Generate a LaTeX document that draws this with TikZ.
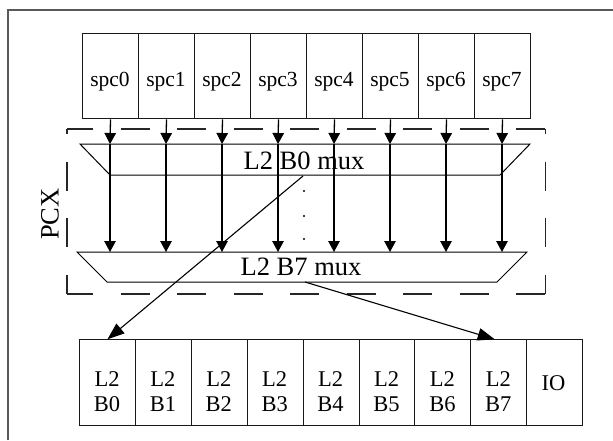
\documentclass[tikz,border=0pt]{standalone}
\usepackage{fontspec}
\setmainfont{Liberation Serif}
\usetikzlibrary{arrows.meta,calc}
\begin{document}
\begin{tikzpicture}[x=1pt,y=-1pt,
  frame/.style={draw=black!65, line width=1.5pt},
  cell/.style={draw=black!90, line width=1pt, inner sep=0pt, anchor=north west},
  spccell/.style={cell, minimum width=56pt, minimum height=85.6pt},
  bankcell/.style={cell, minimum width=55.9pt, minimum height=85.7pt},
  spctext/.style={anchor=base, inner sep=0pt, font=\fontsize{21.5}{24}\selectfont},
  banktext/.style={anchor=base, inner sep=0pt, font=\fontsize{22.5}{25}\selectfont},
  muxtext/.style={anchor=base, inner sep=0pt, font=\fontsize{26.5}{28}\selectfont},
  muxline/.style={draw=black, line width=1pt, line join=miter},
  pcxbox/.style={draw=black!85, line width=1.2pt, dash pattern=on 29pt off 27.5pt},
  varrow/.style={draw=black, line width=1.3pt, -{Triangle[length=11pt,width=11.5pt]}},
  darrow/.style={draw=black, line width=1.1pt, -{Triangle[length=17pt,width=12.5pt]}},
  dotmark/.style={fill=black}
]
\useasboundingbox (0,0) rectangle (613,440);
% outer frame (top and left visible)
\draw[frame] (8,440) -- (8,10) -- (613,10);

% PCX dashed region
\draw[pcxbox, dash phase=3pt] (67,129) -- (545.6,129);
\draw[pcxbox, dash phase=3pt] (67,294) -- (545.6,294);
\draw[pcxbox, dash phase=23.8pt] (67,129) -- (67,294);
\draw[pcxbox, dash phase=23.8pt] (545.6,129) -- (545.6,294);
\node[rotate=90, inner sep=0pt, font=\fontsize{26.5}{28}\selectfont] (pcx) at (50,214) {PCX};

% spc cells
\foreach \i in {0,...,7}{
  \node[spccell] (s\i) at ({82+56*\i},32.7) {};
  \node[spctext] (ts\i) at ({110+56*\i},86) {spc\i};
  \coordinate (mt\i) at ({110+56*\i},144);
  \coordinate (mb\i) at ({110+56*\i},252);
}

% muxes
\draw[muxline] (80,144) -- (530,144) -- (500,175) -- (110,175) -- cycle;
\node[muxtext] (mux0) at (304,169.3) {L2 B0 mux};
\draw[muxline] (77,252) -- (527,252) -- (497,282) -- (107,282) -- cycle;
\node[muxtext] (mux7) at (301,275) {L2 B7 mux};
\coordinate (m0out) at (303,176);
\coordinate (m7out) at (305,282);

% vertical arrows
\foreach \i in {0,...,7}{
  \draw[varrow] (s\i.south) -- (mt\i);
  \draw[varrow] (mt\i) -- (mb\i);
}

% dots
\fill[dotmark] (304,191) circle (1.1pt);
\fill[dotmark] (304,216) circle (1.1pt);
\fill[dotmark] (304,239) circle (1.1pt);

% bank cells
\foreach \i in {0,...,7}{
  \node[bankcell] (L\i) at ({79+55.9*\i},339.3) {};
  \node[banktext] (tl\i) at ({107+55.9*\i},386.7) {L2};
  \node[banktext] (tb\i) at ({107+55.9*\i},411.7) {B\i};
}
\node[bankcell] (L8) at ({79+55.9*8},339.3) {};
\node[banktext] (tio) at (553.5,390) {IO};

% diagonal arrows
\draw[darrow] (m0out) -- (L0.north);
\draw[darrow] (m7out) -- ($(L7.north)+(-4,0)$);
\end{tikzpicture}
\end{document}
